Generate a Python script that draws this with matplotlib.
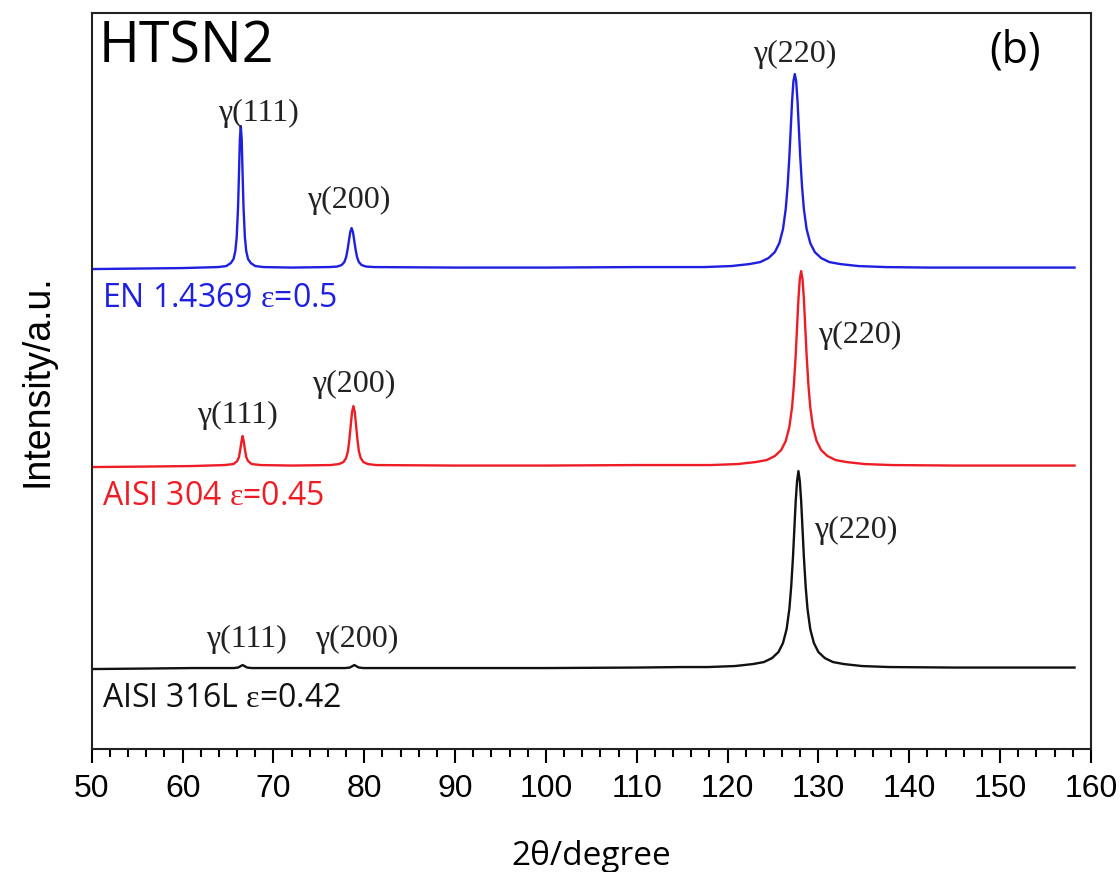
import matplotlib
matplotlib.use("Agg")
import matplotlib.pyplot as plt
from matplotlib.ticker import MultipleLocator

# upright serif epsilon inside the sample labels
plt.rcParams["mathtext.fontset"] = "custom"
plt.rcParams["mathtext.rm"] = "Liberation Serif"

# --- data (2theta in degree, intensity in a.u. above baseline)
blue_x = [50, 55, 60,
          63.9, 64.8, 65.3, 65.6, 65.8, 65.95, 66.1, 66.2, 66.3, 66.4, 66.5, 66.6,
          66.7, 66.85, 67.0, 67.2, 67.5, 68.0, 68.9,
          72,
          76.1, 77.0, 77.5, 77.8, 78.0, 78.15, 78.3, 78.45, 78.6, 78.75, 78.9,
          79.05, 79.2, 79.4, 79.7, 80.2, 81.1,
          90, 100, 110, 115,
          117.4, 120.4, 122.4, 123.6, 124.5, 125.2, 125.7, 126.1, 126.4, 126.6,
          126.8, 126.95, 127.1, 127.25, 127.4, 127.55, 127.7, 127.85, 128.0,
          128.2, 128.4, 128.7, 129.1, 129.6, 130.3, 131.2, 132.4, 134.4, 137.4,
          142, 150, 158.2]
blue_y = [0, 0.5, 1,
          2, 3, 6, 10, 18, 32, 62, 95, 130, 143, 130, 95,
          62, 32, 18, 10, 6, 3, 2,
          1.5,
          2, 2.5, 4, 7, 12, 19, 28, 37, 41, 37, 28,
          19, 12, 7, 4, 2.5, 2,
          1.5, 1.5, 2, 2,
          2, 3, 5, 7, 11, 17, 26, 40, 60, 82,
          112, 140, 168, 188, 195, 188, 168, 140, 112,
          82, 60, 40, 26, 17, 11, 7, 5, 3, 2,
          1.5, 1.5, 1.5]

red_x = [50, 56, 61,
         64.6, 65.6, 66.0, 66.2, 66.35, 66.5, 66.6, 66.7, 66.85, 67.0, 67.2,
         67.6, 68.6,
         72,
         76.3, 77.2, 77.7, 78.0, 78.2, 78.35, 78.5, 78.65, 78.8, 78.95, 79.1,
         79.25, 79.4, 79.6, 79.9, 80.4, 81.3,
         90, 100, 110, 115,
         118.1, 121.1, 123.1, 124.3, 125.2, 125.9, 126.4, 126.8, 127.1, 127.3,
         127.5, 127.65, 127.8, 127.95, 128.1, 128.25, 128.4, 128.55, 128.7,
         128.9, 129.1, 129.4, 129.8, 130.3, 131.0, 131.9, 133.1, 135.1, 138.1,
         145, 158.2]
red_y = [0, 0.5, 1,
         2, 3, 6, 10, 18, 27, 31, 27, 18, 10, 6,
         3, 2,
         1.5,
         2, 3, 5, 9, 16, 27, 41, 55, 61, 55, 41,
         27, 16, 9, 5, 3, 2,
         1.5, 1.5, 2, 2,
         2, 3, 5, 7, 11, 17, 26, 40, 60, 82,
         112, 140, 168, 188, 196, 188, 168, 140, 112,
         82, 60, 40, 26, 17, 11, 7, 5, 3, 2,
         1.5, 1.5]

black_x = [50, 56, 61,
           65.6, 66.1, 66.4, 66.6, 66.8, 67.1, 67.6,
           72,
           77.9, 78.4, 78.7, 78.9, 79.1, 79.4, 79.9,
           90, 100, 110, 115,
           117.8, 120.8, 122.8, 124.0, 124.9, 125.6, 126.1, 126.5, 126.8, 127.0,
           127.2, 127.35, 127.5, 127.65, 127.8, 127.95, 128.1, 128.25, 128.4,
           128.6, 128.8, 129.1, 129.5, 130.0, 130.7, 131.6, 132.8, 134.8, 137.8,
           145, 158.2]
black_y = [0, 0.5, 1,
           1, 1.5, 3, 4, 3, 1.5, 1,
           1,
           1, 1.5, 3, 4, 3, 1.5, 1,
           1, 1, 1.5, 2,
           2, 3, 5, 7, 11, 17, 26, 40, 60, 82,
           112, 140, 168, 188, 198, 188, 168, 140, 112,
           82, 60, 40, 26, 17, 11, 7, 5, 3, 2,
           1.5, 1.5]

offsets = [480, 282, 80]          # vertical stacking of the three patterns
colors = ["#1f1fe0", "#ee1c25", "#111111"]
samples = ["EN 1.4369 $\\mathrm{\\varepsilon}$=0.5",
           "AISI 304 $\\mathrm{\\varepsilon}$=0.45",
           "AISI 316L $\\mathrm{\\varepsilon}$=0.42"]

# peak labels: (2theta, y) per pattern
peak_names = ["γ(111)", "γ(200)", "γ(220)"]
peak_pos = [
    [(68.3, 636), (78.3, 549), (127.4, 695)],
    [(66.0, 334), (78.8, 365), (134.5, 414)],
    [(67.0, 110), (79.2, 110), (134.1, 219)],
]

fig = plt.figure(figsize=(11.2, 8.72), dpi=100)
ax = fig.add_axes([0.082, 0.141, 0.892, 0.844])

traces = [(blue_x, blue_y), (red_x, red_y), (black_x, black_y)]
for (xs, ys), off, c in zip(traces, offsets, colors):
    ax.plot(xs, [v + off for v in ys], color=c, lw=1.7)

for i, (lab, c) in enumerate(zip(samples, colors)):
    ax.text(51.1, offsets[i] - 29, lab, color=c, fontsize=23,
            family="Open Sans", ha="left", va="center")
    for name, (px, py) in zip(peak_names, peak_pos[i]):
        ax.text(px, py, name, fontsize=23, family="Liberation Serif",
                color="#222222", ha="center", va="center")

ax.text(50.8, 701, "HTSN2", fontsize=40, family="Open Sans", ha="left", va="center")
ax.text(151.6, 698, "(b)", fontsize=31, family="Open Sans", ha="center", va="center")

ax.set_xlim(50, 160)
ax.set_ylim(0, 736)
ax.set_yticks([])
ax.xaxis.set_major_locator(MultipleLocator(10))
ax.xaxis.set_minor_locator(MultipleLocator(2))
ax.tick_params(axis="x", which="major", direction="out", length=10, width=1.5,
               labelsize=23, pad=8)
ax.tick_params(axis="x", which="minor", direction="out", length=5.5, width=1.5)
for lbl in ax.get_xticklabels():
    lbl.set_family("Liberation Sans")
for s in ax.spines.values():
    s.set_linewidth(1.5)
    s.set_color("#222222")

ax.set_xlabel("2θ/degree", fontsize=24, family="Open Sans", labelpad=26)
ax.set_ylabel("Intensity/a.u.", fontsize=27, family="Liberation Sans", labelpad=26)

fig.savefig("out.png", dpi=100)
